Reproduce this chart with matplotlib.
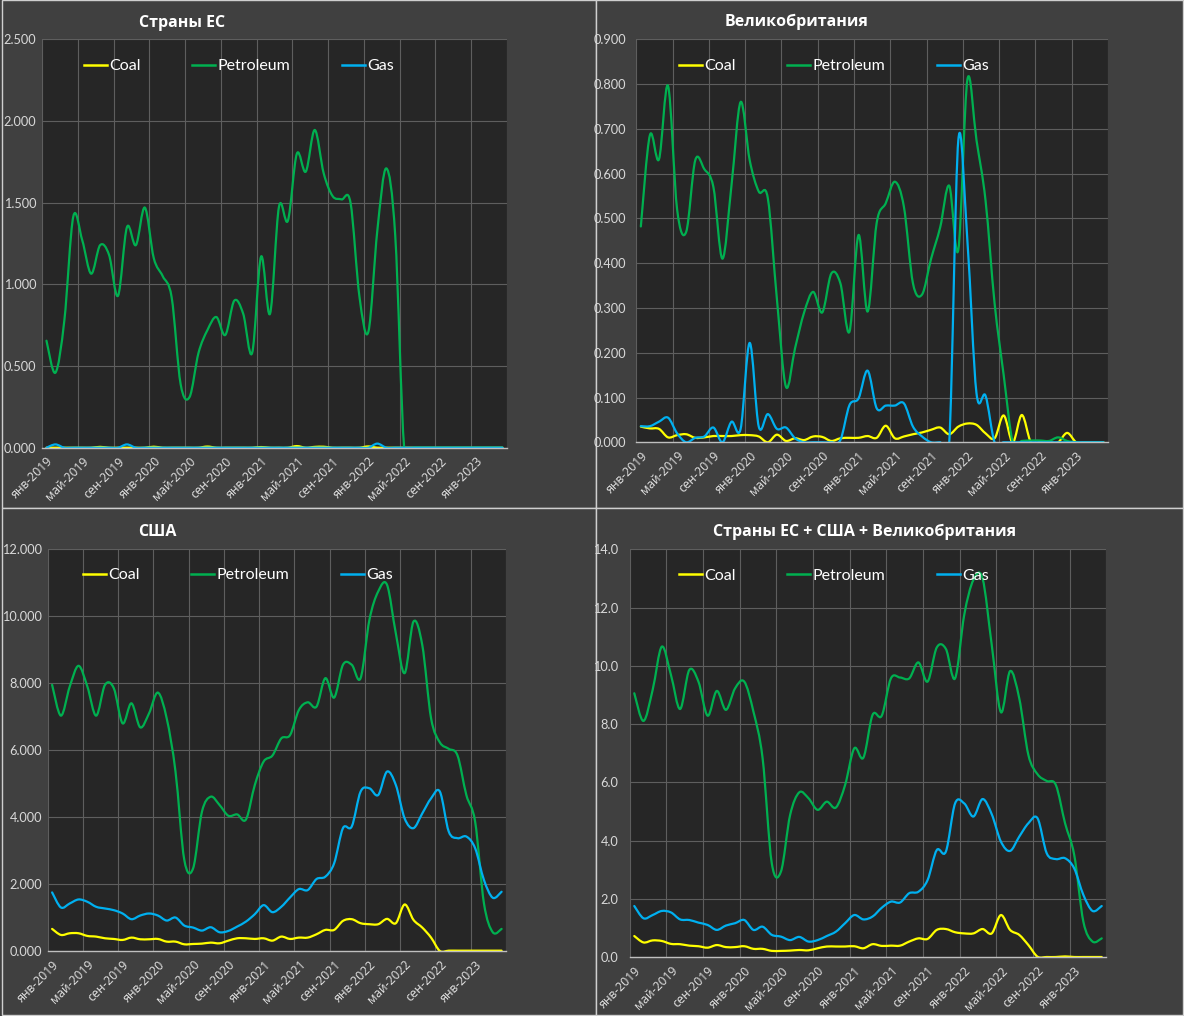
import numpy as np
import matplotlib.pyplot as plt
import matplotlib.transforms as mtransforms
from matplotlib.path import Path
from matplotlib.patches import PathPatch, Rectangle

# --- data (Jan 2019 .. Apr 2023, monthly) ---
tick_labels = ['янв-2019', 'май-2019', 'сен-2019', 'янв-2020', 'май-2020', 'сен-2020',
               'янв-2021', 'май-2021', 'сен-2021', 'янв-2022', 'май-2022', 'сен-2022',
               'янв-2023']
n_months = 52

eu_coal = [0, 0, 0, 0, 0, 0, 0.005, 0, 0, 0, 0, 0, 0.006, 0, 0, 0, 0, 0, 0.007, 0,
           0, 0, 0, 0, 0.004, 0, 0, 0, 0.01, 0, 0.005, 0.006, 0, 0, 0, 0, 0.008, 0, 0, 0,
           0, 0, 0, 0, 0, 0, 0, 0, 0, 0, 0, 0]
eu_petroleum = [0.655, 0.459, 0.78, 1.415, 1.27, 1.065, 1.24, 1.18, 0.93, 1.35,
                1.24, 1.47, 1.16, 1.05, 0.92, 0.39, 0.31, 0.58, 0.72, 0.80,
                0.69, 0.90, 0.82, 0.58, 1.17, 0.82, 1.475, 1.39, 1.80, 1.69,
                1.945, 1.68, 1.54, 1.52, 1.50, 0.925, 0.71, 1.33, 1.71, 1.30,
                0, 0, 0, 0, 0, 0, 0, 0, 0, 0, 0, 0]
eu_gas = [0, 0.02, 0, 0, 0, 0, 0, 0, 0, 0.02, 0, 0, 0, 0, 0, 0, 0, 0, 0, 0,
          0, 0, 0, 0, 0, 0, 0, 0, 0, 0, 0, 0, 0, 0, 0, 0, 0, 0.025, 0, 0,
          0, 0, 0, 0, 0, 0, 0, 0, 0, 0, 0, 0]

uk_coal = [0.035, 0.031, 0.03, 0.011, 0.016, 0.018, 0.01, 0.011, 0.014, 0.014,
           0.014, 0.016, 0.016, 0.013, 0.0, 0.017, 0.003, 0.009, 0.005, 0.013,
           0.012, 0.003, 0.009, 0.01, 0.01, 0.014, 0.01, 0.037, 0.009, 0.013,
           0.018, 0.022, 0.028, 0.033, 0.018, 0.035, 0.042, 0.039, 0.02, 0.009,
           0.06, 0.0, 0.061, 0.0, 0, 0, 0, 0.021, 0, 0, 0, 0]
uk_petroleum = [0.482, 0.686, 0.632, 0.796, 0.52, 0.47, 0.63, 0.61, 0.57, 0.41,
                0.575, 0.76, 0.63, 0.56, 0.545, 0.32, 0.124, 0.21, 0.29, 0.336,
                0.29, 0.377, 0.355, 0.247, 0.463, 0.292, 0.49, 0.534, 0.582, 0.526,
                0.355, 0.33, 0.41, 0.48, 0.573, 0.43, 0.81, 0.675, 0.54, 0.31,
                0.15, 0.0, 0.003, 0.004, 0.004, 0.003, 0.011, 0.003, 0, 0, 0, 0]
uk_gas = [0.036, 0.036, 0.046, 0.055, 0.02, 0.0, 0.01, 0.013, 0.033, 0.0,
          0.046, 0.03, 0.222, 0.035, 0.063, 0.03, 0.033, 0.009, 0, 0,
          0, 0, 0.005, 0.083, 0.098, 0.16, 0.076, 0.082, 0.082, 0.087,
          0.035, 0.013, 0, 0, 0, 0.675, 0.45, 0.11, 0.104, 0,
          0, 0, 0, 0, 0, 0, 0, 0, 0, 0, 0, 0]

us_coal = [0.66, 0.48, 0.53, 0.53, 0.45, 0.43, 0.38, 0.36, 0.33, 0.40,
           0.35, 0.35, 0.36, 0.28, 0.28, 0.20, 0.21, 0.22, 0.25, 0.23,
           0.31, 0.38, 0.38, 0.36, 0.38, 0.31, 0.43, 0.36, 0.40, 0.40,
           0.50, 0.63, 0.63, 0.90, 0.95, 0.83, 0.80, 0.80, 0.96, 0.83,
           1.39, 0.93, 0.70, 0.40, 0.0, 0.01, 0.01, 0.01, 0.01, 0.01, 0.01, 0.01]
us_petroleum = [7.95, 7.03, 7.90, 8.52, 7.90, 7.03, 7.95, 7.85, 6.80, 7.40,
                6.68, 7.10, 7.72, 6.95, 5.36, 2.72, 2.47, 4.16, 4.61, 4.36,
                4.04, 4.08, 3.93, 4.96, 5.66, 5.84, 6.35, 6.45, 7.20, 7.43,
                7.30, 8.15, 7.57, 8.55, 8.55, 8.15, 9.89, 10.74, 10.94, 9.49,
                8.30, 9.84, 9.14, 6.95, 6.23, 6.04, 5.84, 4.66, 3.86, 1.42, 0.56, 0.66]
us_gas = [1.75, 1.30, 1.42, 1.54, 1.47, 1.32, 1.27, 1.22, 1.12, 0.95,
          1.06, 1.12, 1.06, 0.91, 1.00, 0.76, 0.70, 0.61, 0.71, 0.56,
          0.60, 0.73, 0.88, 1.10, 1.37, 1.16, 1.32, 1.60, 1.85, 1.82,
          2.15, 2.22, 2.62, 3.67, 3.72, 4.76, 4.86, 4.66, 5.36, 4.96,
          3.96, 3.67, 4.11, 4.56, 4.76, 3.57, 3.37, 3.42, 3.07, 2.12, 1.59, 1.77]

all_coal = [0.73, 0.51, 0.58, 0.56, 0.46, 0.45, 0.40, 0.38, 0.33, 0.42,
            0.35, 0.35, 0.38, 0.29, 0.29, 0.22, 0.22, 0.23, 0.25, 0.24,
            0.31, 0.37, 0.37, 0.37, 0.38, 0.31, 0.45, 0.39, 0.40, 0.40,
            0.54, 0.65, 0.63, 0.94, 0.97, 0.86, 0.82, 0.82, 0.97, 0.82,
            1.45, 0.94, 0.77, 0.42, 0.02, 0.01, 0.01, 0.03, 0.01, 0.01, 0.01, 0.01]
all_petroleum = [9.06, 8.11, 9.17, 10.66, 9.69, 8.52, 9.86, 9.46, 8.29, 9.14,
                 8.49, 9.23, 9.46, 8.43, 6.83, 3.23, 2.94, 4.88, 5.66, 5.46,
                 5.06, 5.34, 5.14, 5.91, 7.17, 6.85, 8.32, 8.29, 9.57, 9.60,
                 9.57, 10.12, 9.46, 10.63, 10.58, 9.57, 11.75, 12.95, 13.0, 10.72,
                 8.41, 9.82, 8.89, 6.94, 6.28, 6.05, 5.91, 4.60, 3.51, 1.22, 0.54, 0.65]
all_gas = [1.76, 1.34, 1.45, 1.59, 1.54, 1.30, 1.28, 1.19, 1.11, 0.94,
           1.09, 1.17, 1.28, 0.94, 1.05, 0.77, 0.71, 0.59, 0.70, 0.54,
           0.59, 0.73, 0.88, 1.17, 1.45, 1.30, 1.40, 1.70, 1.91, 1.88,
           2.20, 2.25, 2.65, 3.68, 3.63, 5.28, 5.28, 4.83, 5.43, 4.91,
           3.97, 3.65, 4.14, 4.60, 4.77, 3.57, 3.37, 3.40, 3.05, 2.14, 1.59, 1.76]

COAL = '#FFFF00'
PETROL = '#00B050'
GAS = '#00B0F0'
PANEL_BG = '#404040'
PLOT_BG = '#262626'
GRID = '#5e5e5e'
TXT = '#d9d9d9'

W, H = 1184, 1016
fig = plt.figure(figsize=(W / 100, H / 100), dpi=100, facecolor=PANEL_BG)


def fx(px):
    return px / W


def fy(py):
    return 1 - py / H


# panel frames (drawn below the axes)
for (x0, y0, x1, y1) in [(2, 0, 596, 508), (596, 0, 1183, 508),
                         (2, 508, 596, 1015), (596, 508, 1183, 1015)]:
    fig.patches.append(Rectangle((fx(x0), fy(y1)), fx(x1 - x0), (y1 - y0) / H,
                                 transform=fig.transFigure, facecolor=PANEL_BG,
                                 edgecolor='#cfcfcf', lw=1.0, zorder=-5))


def smooth_line(ax, vals, color):
    # Excel-like smoothed line: cubic Bezier through every point
    y = np.asarray(vals, float)
    x = np.arange(len(y), dtype=float)
    pts = np.column_stack([x, y])
    ext = np.vstack([pts[0], pts, pts[-1]])
    verts = [pts[0]]
    codes = [Path.MOVETO]
    for i in range(len(pts) - 1):
        p0, p1, p2, p3 = ext[i], ext[i + 1], ext[i + 2], ext[i + 3]
        c1 = p1 + (p2 - p0) / 6.0
        c2 = p2 - (p3 - p1) / 6.0
        verts += [c1, c2, p2]
        codes += [Path.CURVE4] * 3
    patch = PathPatch(Path(verts, codes), facecolor='none', edgecolor=color,
                      lw=1.6, transform=ax.transData, capstyle='round',
                      joinstyle='round')
    ax.add_patch(patch)
    ax.plot([], [], color=color, lw=1.8)


def make_panel(box, title, title_xy, coal, petrol, gas, ymax, ystep, fmt,
               leg_xy, ypad):
    l, r, t, b = box
    ax = fig.add_axes([fx(l), fy(b), fx(r - l), (b - t) / H], zorder=2)
    ax.set_facecolor(PLOT_BG)
    smooth_line(ax, coal, COAL)
    smooth_line(ax, petrol, PETROL)
    smooth_line(ax, gas, GAS)
    ax.set_xlim(-0.5, n_months - 0.5)
    ax.set_ylim(0, ymax)

    yt = np.arange(0, ymax + ystep / 2, ystep)
    ax.set_yticks(yt)
    ax.set_yticklabels([fmt.format(v) for v in yt])
    ax.set_xticks(np.arange(0, n_months, 4))
    ax.set_xticklabels(tick_labels, rotation=45, ha='right',
                       rotation_mode='anchor', family='Noto Sans', fontsize=8.8,
                       color=TXT)
    shift = mtransforms.ScaledTranslation(0.06, 0, fig.dpi_scale_trans)
    for lab in ax.get_xticklabels():
        lab.set_transform(lab.get_transform() + shift)
    ax.set_xticks(np.arange(-0.5, n_months, 4), minor=True)
    ax.tick_params(axis='x', which='both', length=0, pad=5)
    ax.tick_params(axis='y', length=0, pad=ypad, labelsize=9.2, labelcolor=TXT)
    for lab in ax.get_yticklabels():
        lab.set_family('Lato')
    ax.grid(True, axis='y', color=GRID, lw=0.8)
    ax.grid(True, axis='x', which='minor', color=GRID, lw=0.8)
    ax.set_axisbelow(True)
    for s in ['left', 'top', 'right']:
        ax.spines[s].set_visible(False)
    ax.spines['bottom'].set_color('#bfbfbf')
    ax.spines['bottom'].set_linewidth(1.0)

    handles = ax.get_lines()
    leg = ax.legend(handles, ['Coal', 'Petroleum', 'Gas'], ncol=3, frameon=False,
                    loc='center left',
                    bbox_to_anchor=((leg_xy[0] - l) / (r - l), (b - leg_xy[1]) / (b - t)),
                    borderpad=0, borderaxespad=0, handlelength=1.45,
                    handletextpad=0.15, columnspacing=3.2,
                    prop={'family': 'Lato', 'size': 11.5})
    for txt in leg.get_texts():
        txt.set_color('white')

    fig.text(fx(title_xy[0]), fy(title_xy[1]), title, ha='center', va='center',
             color='white', fontsize=11.5, fontweight='bold',
             family=['Open Sans', 'DejaVu Sans'], zorder=3)
    return ax


make_panel((42, 507, 39.3, 447.7), 'Страны ЕС', (182, 23),
           eu_coal, eu_petroleum, eu_gas, 2.5, 0.5, '{:.3f}', (84, 66), 4)
make_panel((636.3, 1108, 39.3, 442.3), 'Великобритания', (797, 22),
           uk_coal, uk_petroleum, uk_gas, 0.9, 0.1, '{:.3f}', (679, 66), 7.5)
make_panel((47.7, 506, 549.3, 951), 'США', (157, 532),
           us_coal, us_petroleum, us_gas, 12, 2, '{:.3f}', (83, 575), 4)
make_panel((629.7, 1106.3, 549.3, 957.3), 'Страны ЕС + США + Великобритания', (865, 532),
           all_coal, all_petroleum, all_gas, 14, 2, '{:.1f}', (679, 576), 8)

fig.savefig('out.png', dpi=100, facecolor=PANEL_BG)
